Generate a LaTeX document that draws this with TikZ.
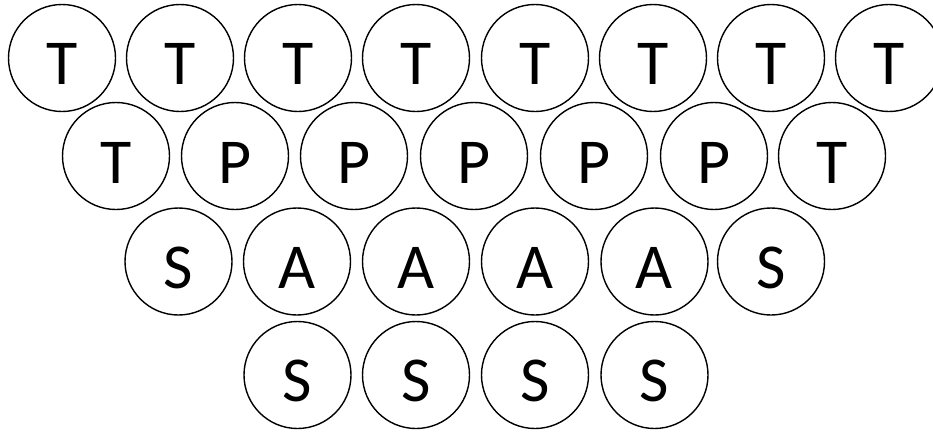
\documentclass[tikz,border=0pt]{standalone}
\usepackage{fontspec}
\setmainfont{Carlito}
\begin{document}
\begin{tikzpicture}[x=1pt,y=-1pt,
  circ/.style={draw=black, line width=1.4pt, circle, minimum size=107pt, inner sep=0pt},
  lbl/.style={font=\fontsize{64}{66}\selectfont, anchor=base, inner sep=0pt}]
\useasboundingbox (0,0) rectangle (933,431);
\clip (0,0) rectangle (933,431);
% row 1
\foreach \x/\t [count=\i] in {62/T,180/T,298/T,416/T,535/T,653/T,771/T,889/T}{
  \node[circ] (r1c\i) at (\x,58) {};
  \node[lbl] (t1c\i) at (\x,84.5) {\t};
}
% row 2
\foreach \x/\t [count=\i] in {116/T,235/P,354/P,474/P,594/P,714/P,832/T}{
  \node[circ] (r2c\i) at (\x,156) {};
  \node[lbl] (t2c\i) at (\x,183) {\t};
}
% row 3
\foreach \x/\t [count=\i] in {178.5/S,297/A,416/A,535/A,654.5/A,771/S}{
  \node[circ] (r3c\i) at (\x,261.5) {};
  \node[lbl] (t3c\i) at (\x,288) {\t};
}
% row 4
\foreach \x/\t [count=\i] in {297.5/S,416/S,535/S,654.5/S}{
  \node[circ] (r4c\i) at (\x,375) {};
  \node[lbl] (t4c\i) at (\x,401.5) {\t};
}
\end{tikzpicture}
\end{document}
